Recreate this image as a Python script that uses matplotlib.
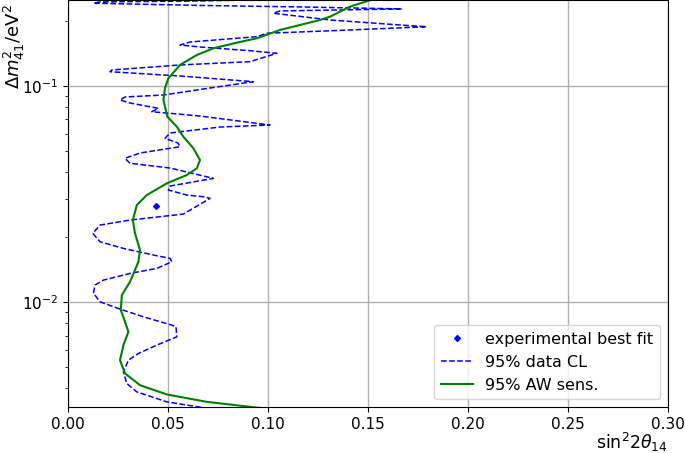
import matplotlib
matplotlib.use("Agg")
import matplotlib.pyplot as plt

# 95% data CL contour (sin^2 2theta14, dm2_41)
data_x = [0.0785, 0.0494, 0.0344, 0.0294, 0.0277, 0.0302, 0.0352, 0.0444, 0.0544, 0.054,
          0.0519, 0.0377, 0.026, 0.016, 0.0127, 0.0135, 0.0177, 0.031, 0.0444, 0.0519,
          0.051, 0.0444, 0.0277, 0.016, 0.0124, 0.016, 0.031, 0.0577, 0.071, 0.0677,
          0.0594, 0.0502, 0.051, 0.0727, 0.051, 0.031, 0.0285, 0.036, 0.056, 0.055,
          0.0485, 0.051, 0.076, 0.101, 0.066, 0.0419, 0.0452, 0.031, 0.026, 0.0285,
          0.0477, 0.071, 0.0927, 0.056, 0.021, 0.0219, 0.056, 0.091, 0.1044, 0.091,
          0.066, 0.056, 0.061, 0.0944, 0.0994, 0.141, 0.1794, 0.166, 0.131, 0.1027,
          0.106, 0.1669, 0.116, 0.066, 0.0127, 0.016, 0.066, 0.116]
data_y = [0.00313, 0.003455, 0.003842, 0.004202, 0.004757, 0.005388, 0.005787, 0.006324, 0.006909, 0.007687,
          0.007827, 0.00855, 0.009281, 0.010032, 0.011007, 0.011989, 0.012641, 0.013578, 0.014322, 0.015372,
          0.015937, 0.016387, 0.017724, 0.019016, 0.020796, 0.022723, 0.023967, 0.025553, 0.030207, 0.030725,
          0.031289, 0.033001, 0.034437, 0.037374, 0.041736, 0.043878, 0.046281, 0.048969, 0.05236, 0.054473,
          0.057269, 0.0606, 0.064592, 0.066, 0.072627, 0.076033, 0.078812, 0.083437, 0.086148, 0.088954,
          0.090844, 0.097891, 0.10469, 0.11125, 0.11646, 0.11859, 0.12513, 0.12961, 0.14168, 0.14565,
          0.15153, 0.15477, 0.15981, 0.16911, 0.17536, 0.18163, 0.18811, 0.19157, 0.20207, 0.21713,
          0.22249, 0.22731, 0.2322, 0.23595, 0.24154, 0.24491, 0.2475, 0.25283]

# 95% Asimov (AW) sensitivity
sens_x = [0.115, 0.0944, 0.0694, 0.0494, 0.036, 0.0285, 0.026, 0.0277, 0.0302, 0.0285, 0.0264,
          0.0269, 0.031, 0.0352, 0.036, 0.0335, 0.0324, 0.0344, 0.0394, 0.0494, 0.0594,
          0.0644, 0.066, 0.0627, 0.0577, 0.0544, 0.0497, 0.0477, 0.0485, 0.0502, 0.056,
          0.0644, 0.0727, 0.0844, 0.0944, 0.106, 0.126, 0.131, 0.141, 0.156]
sens_y = [0.0031, 0.00325, 0.003455, 0.003739, 0.004126, 0.004677, 0.005388, 0.006324, 0.007287, 0.008108, 0.009183,
          0.010774, 0.012414, 0.015372, 0.017405, 0.020796, 0.023967, 0.028119, 0.031289, 0.035443, 0.038726,
          0.041591, 0.045446, 0.051475, 0.058253, 0.064799, 0.072097, 0.086148, 0.097891, 0.10854, 0.12513,
          0.13913, 0.14943, 0.15864, 0.16625, 0.18163, 0.20207, 0.20928, 0.23294, 0.258]

best_x = [0.044]
best_y = [0.0278]

fig = plt.figure(figsize=(6.85, 4.53), dpi=100)
ax = fig.add_axes([0.0993, 0.1015, 0.8758, 0.8985])

ax.plot(best_x, best_y, linestyle='none', marker='D', markersize=3, color='blue',
        label='experimental best fit')
ax.plot(data_x, data_y, linestyle='--', color='blue', linewidth=1.1, label='95% data CL')
ax.plot(sens_x, sens_y, linestyle='-', color='green', linewidth=1.5, label='95% AW sens.')

ax.set_yscale('log')
ax.set_xlim(0.0, 0.30)
ax.set_ylim(0.00327, 0.25)
ax.set_xticks([0.0, 0.05, 0.10, 0.15, 0.20, 0.25, 0.30])
ax.set_xticklabels(['0.00', '0.05', '0.10', '0.15', '0.20', '0.25', '0.30'])
ax.grid(True, which='major', color='#b0b0b0', linewidth=1.0)
ax.tick_params(axis='both', which='major', labelsize=11)

ax.set_xlabel(r'$\mathrm{sin}^2 2\theta_{14}$', fontsize=12.5, loc='right')
ax.xaxis.set_label_coords(1.0, -0.058)
ax.set_ylabel(r'$\Delta m^2_{41}/\mathrm{eV}^2$', fontsize=13, loc='top')
ax.yaxis.set_label_coords(-0.068, 0.99)

ax.legend(loc='lower right', fontsize=11.5, framealpha=0.8)

fig.savefig('out.png', dpi=100)
